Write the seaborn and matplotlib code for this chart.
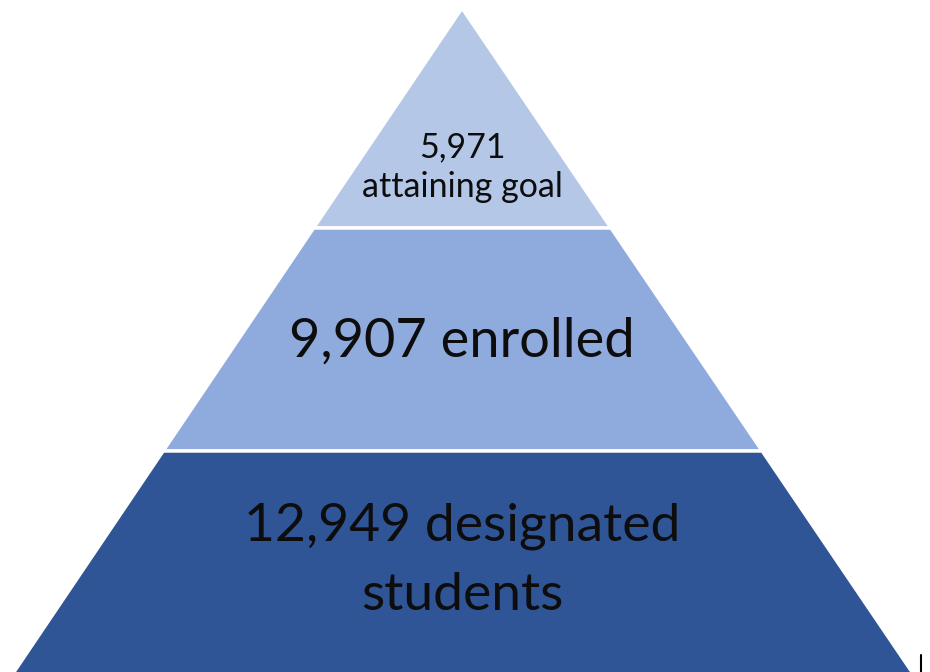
import matplotlib
matplotlib.use("Agg")
import matplotlib.pyplot as plt
import seaborn as sns

# Data
tier_values = ["5,971", "9,907", "12,949"]
tier_lines = [["5,971", "attaining goal"], ["9,907 enrolled"], ["12,949 designated", "students"]]
tier_colors = ["#B4C7E7", "#8FAADC", "#2F5597"]

sns.set_theme(style="white")
plt.rcParams['font.family'] = ['Lato', 'DejaVu Sans']

W, H = 930, 672
fig = plt.figure(figsize=(W / 100, H / 100), dpi=100)
ax = fig.add_axes([0, 0, 1, 1])
ax.set_xlim(0, W)
ax.set_ylim(H, 0)
ax.axis("off")

# pyramid geometry (layout)
apex_x, apex_y = 462, 8
base_y, base_l, base_r = 672, 14, 912
bounds = [apex_y, 228, 451, base_y + 8]

def xl(y):
    return apex_x + (base_l - apex_x) * (y - apex_y) / (base_y - apex_y)

def xr(y):
    return apex_x + (base_r - apex_x) * (y - apex_y) / (base_y - apex_y)

for i, c in enumerate(tier_colors):
    y0, y1 = bounds[i], bounds[i + 1]
    xs = [xl(y0), xr(y0), xr(y1), xl(y1)]
    ys = [y0, y0, y1, y1]
    ax.fill(xs, ys, color=c, edgecolor="white", linewidth=2.5, joinstyle="miter")

sizes = [24.5, 39, 38.5]
baselines = [[157, 197], [357], [540, 610]]
for lines, s, bls in zip(tier_lines, sizes, baselines):
    for ln, by in zip(lines, bls):
        ax.text(apex_x, by, ln, ha="center", va="baseline", fontsize=s,
                color="#0d0d0d")

ax.plot([921, 921], [655, 672], color="black", linewidth=1.5)

fig.savefig("out.png", dpi=100)
